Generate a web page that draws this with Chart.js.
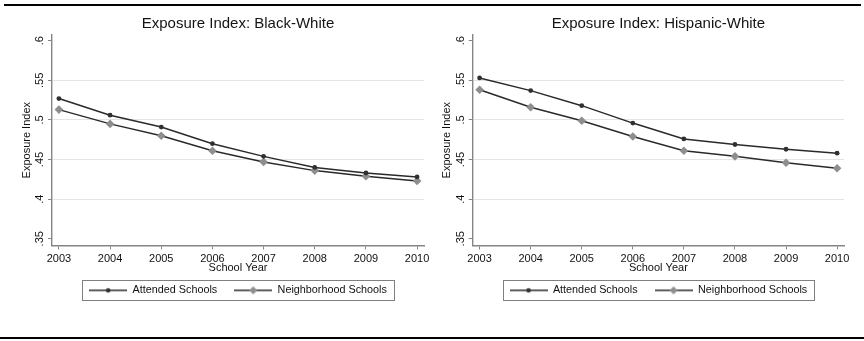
<!DOCTYPE html>
<html>
<head>
<meta charset="utf-8">
<script src="https://cdn.jsdelivr.net/npm/chart.js@4/dist/chart.umd.min.js"></script>
<style>
  html, body { margin: 0; padding: 0; background: #fff; }
  #page { position: relative; width: 864px; height: 341px; overflow: hidden; background: #fff; }
  .rule { position: absolute; background: #000; }
  canvas { position: absolute; top: 0; }
</style>
</head>
<body>
<div id="page">
  <div class="rule" style="left:4px; top:4px; width:857px; height:2px;"></div>
  <canvas id="bw" width="432" height="341" style="left:0px;"></canvas>
  <canvas id="hw" width="432" height="341" style="left:432px;"></canvas>
  <div class="rule" style="left:0px; top:337px; width:864px; height:2px;"></div>
</div>
<script>
// School years on the x axis
const years = [2003, 2004, 2005, 2006, 2007, 2008, 2009, 2010];
const yearLabels = ["2003", "2004", "2005", "2006", "2007", "2008", "2009", "2010"];

// y axis tick values and their labels
const yTickValues = [0.35, 0.4, 0.45, 0.5, 0.55, 0.6];
const yTickLabels = [".35", ".4", ".45", ".5", ".55", ".6"];

// Black-White exposure index
const bwAttended     = [0.527, 0.506, 0.491, 0.470, 0.454, 0.440, 0.433, 0.428];
const bwNeighborhood = [0.513, 0.495, 0.480, 0.461, 0.447, 0.436, 0.429, 0.423];

// Hispanic-White exposure index
const hwAttended     = [0.553, 0.537, 0.518, 0.496, 0.476, 0.469, 0.463, 0.458];
const hwNeighborhood = [0.538, 0.516, 0.499, 0.479, 0.461, 0.454, 0.446, 0.439];

const seriesNames = ["Attended Schools", "Neighborhood Schools"];

const FONT = "'Liberation Sans', Arial, Helvetica, sans-serif";
const LINE_COLOR = "#2a2a2a";
const ATT_MARK = "#303030";
const NBR_MARK = "#8e8e8e";
const AXIS_COLOR = "#858585";
const GRID_COLOR = "#e4e4e4";

// Legend key: a short line with the series marker in the middle
function legendKey(kind) {
  const c = document.createElement("canvas");
  c.width = 38; c.height = 10;
  const g = c.getContext("2d");
  g.strokeStyle = LINE_COLOR;
  g.lineWidth = 1.3;
  g.beginPath(); g.moveTo(0, 5); g.lineTo(38, 5); g.stroke();
  if (kind === 0) {
    g.fillStyle = ATT_MARK;
    g.beginPath(); g.arc(19, 5, 2.3, 0, Math.PI * 2); g.fill();
  } else {
    g.fillStyle = NBR_MARK;
    g.beginPath(); g.moveTo(19, 1); g.lineTo(23, 5); g.lineTo(19, 9); g.lineTo(15, 5); g.closePath(); g.fill();
  }
  return c;
}
const legendKeys = [legendKey(0), legendKey(1)];

// Frame drawn around the legend entries
const legendFrame = {
  id: "legendFrame",
  afterDraw(chart) {
    const lg = chart.legend;
    if (!lg || !lg.legendHitBoxes || !lg.legendHitBoxes.length) return;
    const hb = lg.legendHitBoxes;
    const first = hb[0], last = hb[hb.length - 1];
    const cy = first.top + first.height / 2;
    const x0 = Math.round(first.left - 7) + 0.5;
    const x1 = Math.round(last.left + last.width + 7) + 0.5;
    const y0 = Math.round(cy - 10) + 0.5;
    const y1 = Math.round(cy + 10) + 0.5;
    const ctx = chart.ctx;
    ctx.save();
    ctx.strokeStyle = "#808080";
    ctx.lineWidth = 1;
    ctx.strokeRect(x0, y0, x1 - x0, y1 - y0);
    ctx.restore();
  }
};

function makeChart(id, titleText, attended, neighborhood, geo) {
  const toPoints = arr => years.map((yr, i) => ({ x: yr, y: arr[i] }));
  return new Chart(document.getElementById(id), {
    type: "line",
    data: {
      datasets: [
        {
          label: seriesNames[0],
          data: toPoints(attended),
          borderColor: LINE_COLOR,
          borderWidth: 1.5,
          backgroundColor: ATT_MARK,
          pointBackgroundColor: ATT_MARK,
          pointBorderColor: ATT_MARK,
          pointBorderWidth: 0,
          pointRadius: 2.4,
          pointStyle: "circle",
          tension: 0
        },
        {
          label: seriesNames[1],
          data: toPoints(neighborhood),
          borderColor: LINE_COLOR,
          borderWidth: 1.5,
          backgroundColor: NBR_MARK,
          pointBackgroundColor: NBR_MARK,
          pointBorderColor: NBR_MARK,
          pointBorderWidth: 0,
          pointRadius: 4.3,
          pointStyle: "rectRot",
          tension: 0
        }
      ]
    },
    options: {
      responsive: false,
      animation: false,
      events: [],
      layout: { padding: { top: 15, bottom: 35.25, left: 0, right: geo.rightPad } },
      plugins: {
        tooltip: { enabled: false },
        title: {
          display: true,
          text: titleText,
          fullSize: false,
          color: "#141414",
          font: { family: FONT, size: 15, weight: "normal", lineHeight: 1.2 },
          padding: { top: 0, bottom: 2 }
        },
        legend: {
          position: "bottom",
          fullSize: false,
          labels: {
            usePointStyle: true,
            pointStyleWidth: 38,
            padding: 17,
            color: "#111",
            font: { family: FONT, size: 10.8 },
            generateLabels(chart) {
              const items = Chart.defaults.plugins.legend.labels.generateLabels(chart);
              items.forEach((it, i) => { it.pointStyle = legendKeys[i]; it.rotation = 0; });
              return items;
            }
          }
        }
      },
      scales: {
        x: {
          type: "linear",
          min: 2003 - 0.135,
          max: 2010 + 0.135,
          afterBuildTicks(scale) { scale.ticks = years.map(v => ({ value: v })); },
          afterFit(scale) { scale.height = 22.55; scale.paddingLeft = 0; scale.paddingRight = 0; },
          border: { color: AXIS_COLOR, width: 1.4 },
          grid: { drawOnChartArea: false, drawTicks: true, tickLength: 4, tickColor: AXIS_COLOR, tickWidth: 1 },
          ticks: {
            padding: 2.7,
            color: "#111",
            font: { family: FONT, size: 11 },
            maxRotation: 0,
            autoSkip: false,
            callback(value) { const i = years.indexOf(value); return i >= 0 ? yearLabels[i] : ""; }
          },
          title: {
            display: true,
            text: "School Year",
            color: "#111",
            font: { family: FONT, size: 11, lineHeight: 1.2 },
            padding: { top: 0, bottom: -6.85 }
          }
        },
        y: {
          type: "linear",
          min: 0.3416,
          max: 0.6072,
          afterBuildTicks(scale) { scale.ticks = yTickValues.map(v => ({ value: v })); },
          afterFit(scale) { scale.width = geo.yWidth; scale.paddingTop = 0; scale.paddingBottom = 0; },
          border: { color: AXIS_COLOR, width: 1.4 },
          grid: {
            drawTicks: true,
            tickLength: 4,
            tickColor: AXIS_COLOR,
            tickWidth: 1,
            lineWidth: 1,
            color(ctx) {
              const v = ctx.tick ? ctx.tick.value : null;
              return (v === yTickValues[0] || v === yTickValues[yTickValues.length - 1]) ? "rgba(0,0,0,0)" : GRID_COLOR;
            }
          },
          ticks: {
            padding: 0,
            minRotation: 90,
            maxRotation: 90,
            crossAlign: "center",
            color: "#111",
            font: { family: FONT, size: 11 },
            autoSkip: false,
            callback(value) {
              const i = yTickValues.findIndex(v => Math.abs(v - value) < 1e-9);
              return i >= 0 ? yTickLabels[i] : "";
            }
          },
          title: {
            display: true,
            text: "Exposure Index",
            color: "#111",
            font: { family: FONT, size: 11, lineHeight: 1.2 },
            padding: { top: geo.yTitlePad, bottom: 0 }
          }
        }
      }
    },
    plugins: [legendFrame]
  });
}

makeChart("bw", "Exposure Index: Black-White", bwAttended, bwNeighborhood,
  { yWidth: 52, rightPad: 8, yTitlePad: 20.4 });
makeChart("hw", "Exposure Index: Hispanic-White", hwAttended, hwNeighborhood,
  { yWidth: 40.7, rightPad: 20, yTitlePad: 8.4 });
</script>
</body>
</html>
